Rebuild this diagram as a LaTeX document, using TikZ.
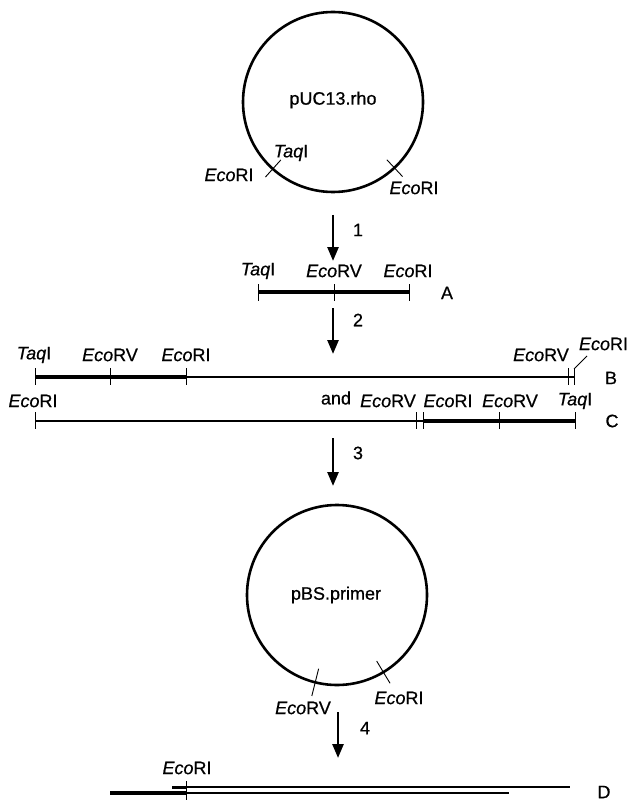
\documentclass[tikz,border=0pt]{standalone}
\usepackage{fontspec}
\setmainfont{Liberation Sans}
\newfontfamily\lblfont[FakeBold=0.6]{Liberation Sans}
\usetikzlibrary{arrows.meta,calc}
\newcommand\Eco{\textit{Eco}}
\newcommand\Taq{\textit{Taq}}
\begin{document}
\begin{tikzpicture}[x=1pt,y=-1pt,
  lbl/.style={inner sep=0pt, outer sep=0pt, font=\lblfont\fontsize{18}{20}\selectfont},
  plasmid/.style={circle, draw, line width=2.6pt, minimum size=180pt, inner sep=0pt, outer sep=0pt},
  thickdna/.style={line width=4.4pt},
  thindna/.style={line width=1.8pt},
  site/.style={line width=0.9pt},
  steparrow/.style={line width=2.6pt, -{Triangle[length=14pt,width=11pt]}},
]
\useasboundingbox (0,0) rectangle (627,802);

% ---- plasmid pUC13.rho
\node[plasmid] (p1) at (333,102) {};
\node[lbl] (p1name) at (333,100) {pUC13.rho};
\draw[site] ($(p1.center)!78pt!(p1.228)$) -- ($(p1.center)!101pt!(p1.228)$);
\draw[site] ($(p1.center)!79pt!(p1.313)$) -- ($(p1.center)!102pt!(p1.313)$);
\node[lbl] (p1taq) at (291,153) {\Taq I};
\node[lbl] (p1eco1) at (229,175) {\Eco RI};
\node[lbl] (p1eco2) at (414,188) {\Eco RI};

% ---- arrow 1
\coordinate (a1s) at (333,215);
\coordinate (a1e) at (333,261);
\draw[steparrow] (a1s) -- (a1e);
\node[lbl] (n1) at (358,230) {1};

% ---- fragment A
\coordinate (A0) at (258,292);
\coordinate (A1) at (334,292);
\coordinate (A2) at (409,292);
\draw[thickdna] (A0) -- (A2);
\foreach \c in {A0,A1,A2} \draw[site] (\c) ++(0,-8) -- ++(0,17);
\node[lbl] (lA0) at (258,271) {\Taq I};
\node[lbl] (lA1) at (334,271) {\Eco RV};
\node[lbl] (lA2) at (408,271) {\Eco RI};
\node[lbl] (nA) at (447,293) {A};

% ---- arrow 2
\coordinate (a2s) at (333,308);
\coordinate (a2e) at (333,354);
\draw[steparrow] (a2s) -- (a2e);
\node[lbl] (n2) at (358,320) {2};

% ---- fragment B
\coordinate (B0) at (35,377);
\coordinate (B1) at (110,377);
\coordinate (B2) at (186,377);
\coordinate (B3) at (568,377);
\coordinate (B4) at (574,377);
\draw[thickdna] (B0) -- (B2);
\draw[thindna] (B2) -- (B4);
\foreach \c in {B0,B1,B2,B3,B4} \draw[site] (\c) ++(0,-9) -- ++(0,17);
\node[lbl] (lB0) at (34,355) {\Taq I};
\node[lbl] (lB1) at (110,355) {\Eco RV};
\node[lbl] (lB2) at (186,355) {\Eco RI};
\node[lbl] (lB3) at (541,355) {\Eco RV};
\node[lbl, anchor=west] (lB4) at (579,344) {\Eco RI};
\coordinate (lead) at (587,356);
\draw[site] ($(B4)+(0,-8)$) -- (lead);
\node[lbl] (nB) at (611,378) {B};

% ---- fragment C
\coordinate (C0) at (35,421);
\coordinate (C1) at (416,421);
\coordinate (C2) at (423,421);
\coordinate (C3) at (499,421);
\coordinate (C4) at (575,421);
\draw[thindna] (C0) -- (C2);
\draw[thickdna] (C2) -- (C4);
\foreach \c in {C0,C1,C2,C3,C4} \draw[site] (\c) ++(0,-9) -- ++(0,17);
\node[lbl] (lC0) at (33,401) {\Eco RI};
\node[lbl] (land) at (336,398) {and};
\node[lbl] (lC1) at (388,401) {\Eco RV};
\node[lbl] (lC2) at (448,401) {\Eco RI};
\node[lbl] (lC3) at (510,401) {\Eco RV};
\node[lbl] (lC4) at (575,401) {\Taq I};
\node[lbl] (nC) at (612,421) {C};

% ---- arrow 3
\coordinate (a3s) at (333,438);
\coordinate (a3e) at (333,486);
\draw[steparrow] (a3s) -- (a3e);
\node[lbl] (n3) at (358,453) {3};

% ---- plasmid pBS.primer
\node[plasmid] (p2) at (337,595) {};
\node[lbl] (p2name) at (336,595) {pBS.primer};
\draw[site] ($(p2.center)!76pt!(p2.256)$) -- ($(p2.center)!104pt!(p2.256)$);
\draw[site] ($(p2.center)!77pt!(p2.301)$) -- ($(p2.center)!103pt!(p2.301)$);
\node[lbl] (p2eco1) at (303,708) {\Eco RV};
\node[lbl] (p2eco2) at (399,698) {\Eco RI};

% ---- arrow 4
\coordinate (a4s) at (338,712);
\coordinate (a4e) at (338,758);
\draw[steparrow] (a4s) -- (a4e);
\node[lbl] (n4) at (365,728) {4};

% ---- product D
\coordinate (D1s) at (172,787);
\coordinate (D1k) at (186,787);
\coordinate (D1e) at (570,787);
\coordinate (D2s) at (110,793);
\coordinate (D2k) at (186,793);
\coordinate (D2e) at (509,793);
\draw[line width=3pt] (D1s) -- (D1k);
\draw[line width=1.1pt] (D1k) -- (D1e);
\draw[line width=3.4pt] (D2s) -- (D2k);
\draw[line width=1.3pt] (D2k) -- (D2e);
\coordinate (Dt) at (186,790);
\draw[site] (Dt) ++(0,-9) -- ++(0,19);
\node[lbl] (lD) at (187,768) {\Eco RI};
\node[lbl] (nD) at (604,792) {D};
\end{tikzpicture}
\end{document}
